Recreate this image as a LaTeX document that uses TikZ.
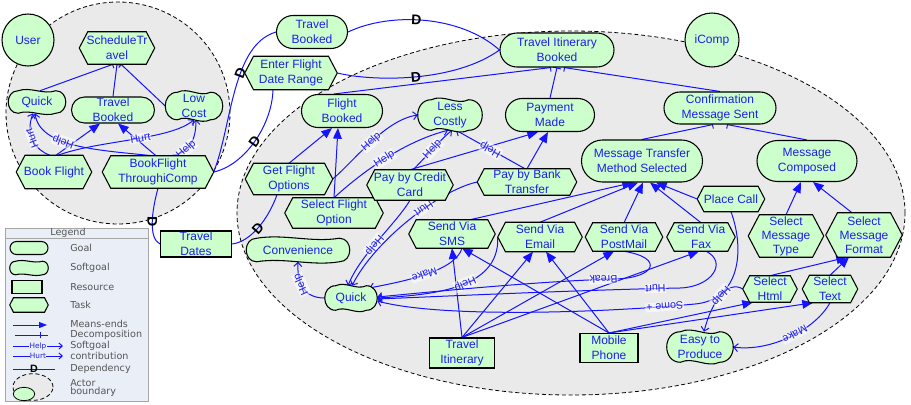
\documentclass[tikz,border=0pt]{standalone}
\usepackage{fontspec}
\setmainfont{Liberation Sans}
\setsansfont{Liberation Sans}
\newfontfamily\legfont{DejaVu Sans}
\usetikzlibrary{shapes.misc,arrows.meta,calc}
\pgfdeclarelayer{bg}\pgfdeclarelayer{edges}\pgfdeclarelayer{shapes}
\pgfsetlayers{bg,edges,shapes,main}
\definecolor{gfill}{RGB}{204,255,204}
\definecolor{lblue}{RGB}{20,20,255}
\definecolor{tblue}{RGB}{30,30,235}
\definecolor{actbg}{RGB}{234,234,234}
\definecolor{legbg}{RGB}{234,239,247}
\definecolor{legtxt}{RGB}{85,85,85}
\newcommand\nodefont{\fontsize{9}{11.2}\selectfont}
\tikzset{
 x=0.75pt, y=-0.75pt,
 txt/.style={font=\nodefont, text=tblue, align=center, inner sep=0pt},
 gsz/.style 2 args={minimum width={#1*0.75pt}, minimum height={#2*0.75pt}},
 goal/.style={txt, rounded rectangle, draw=black, fill=gfill, line width=0.8pt},
 res/.style={txt, rectangle, draw=black, fill=gfill, line width=0.8pt},
 shp/.style={draw=black, fill=gfill, line width=0.8pt},
 actor/.style={txt, circle, draw=black, fill=gfill, line width=0.8pt},
 actb/.style={draw=black, fill=actbg, dash pattern=on 3pt off 2pt, line width=0.6pt},
 link/.style={draw=lblue, line width=0.75pt},
 meansend/.style={link, -{Triangle[length=8pt,width=6.5pt]}},
 contrib/.style={link, -{Straight Barb[length=3pt,width=6pt]}},
 decomp/.style={link, -{Bar[width=6pt]}},
 deplink/.style={link},
 lbl/.style={font=\fontsize{8}{8}\selectfont, text=tblue, sloped, allow upside down, fill=white, fill opacity=0.55, text opacity=1, inner sep=0.6pt},
 dmark/.style={font=\fontsize{10.5}{10.5}\selectfont\bfseries, text=black, sloped, allow upside down, inner sep=0pt},
 legt/.style={font=\legfont\fontsize{7.2}{8}\selectfont, text=legtxt, inner sep=0pt, anchor=west},
}
\newcommand\tasknode[7][]{%
 \node[txt,#1, minimum width={#5*0.75pt}, minimum height={#6*0.75pt}] (#2) at (#3,#4) {#7};
 \pgfmathsetmacro\tipd{0.2*#6}%
 \begin{pgfonlayer}{shapes}
 \draw[shp] (#2.west) -- ([xshift=\tipd pt]#2.north west) -- ([xshift=-\tipd pt]#2.north east) -- (#2.east) -- ([xshift=-\tipd pt]#2.south east) -- ([xshift=\tipd pt]#2.south west) -- cycle;
 \end{pgfonlayer}}
\newcommand\sgnode[7][]{%
 \node[txt,#1, minimum width={#5*0.75pt}, minimum height={#6*0.75pt}] (#2) at (#3,#4) {#7};
 \pgfmathsetmacro\sgr{0.34*#6}%
 \pgfmathsetmacro\sgk{4*\sgr/3}%
 \pgfmathsetmacro\sgl{(0.75*#5-2*\sgr)/3}%
 \pgfmathsetmacro\sgd{0.15*#6}%
 \begin{pgfonlayer}{shapes}
 \draw[shp] ([xshift=\sgr pt]#2.north west) .. controls +(\sgl pt,\sgd pt) and +(-\sgl pt,-\sgd pt) .. ([xshift=-\sgr pt]#2.north east)
   .. controls +(\sgk pt,0pt) and +(\sgk pt,0pt) .. ([xshift=-\sgr pt]#2.south east)
   .. controls +(-\sgl pt,-\sgd pt) and +(\sgl pt,\sgd pt) .. ([xshift=\sgr pt]#2.south west)
   .. controls +(-\sgk pt,0pt) and +(-\sgk pt,0pt) .. ([xshift=\sgr pt]#2.north west) -- cycle;
 \end{pgfonlayer}}
\begin{document}
\begin{tikzpicture}
\useasboundingbox (0,0) rectangle (911,404);
% actor boundaries and legend box
\begin{pgfonlayer}{bg}
\draw[actb] (118,113) ellipse [x radius=84pt, y radius=83.25pt];
\draw[actb] (571,213) ellipse [x radius=250.5pt, y radius=136.5pt];
\node[draw=gray!70, fill=legbg, minimum width=107.25pt, minimum height=129.75pt, anchor=north west, inner sep=0pt] (legend) at (5,228) {};
\draw[gray!70] ($(legend.north west)+(0,10)$) -- ($(legend.north east)+(0,10)$);
\end{pgfonlayer}

% ---------------- User ----------------
\node[actor, minimum size=39pt] (user) at (28,40) {User};
\tasknode{st}{117}{48}{75}{32}{ScheduleTr\\avel}
\sgnode{uquick}{37}{102}{57}{22}{Quick}
\node[goal, gsz={83}{26}] (utb) at (113,110) {Travel\\Booked};
\sgnode{lowcost}{194}{106}{57}{27}{Low\\Cost}
\tasknode{bf}{54}{172}{75}{33}{Book Flight}
\tasknode{bftic}{158}{172}{111}{32}{BookFlight\\ThroughiComp}

% ---------------- dependums ----------------
\node[goal, gsz={71}{33}] (ttb) at (312,32) {Travel\\Booked};
\tasknode{efdr}{291}{73}{92}{33}{Enter Flight\\Date Range}
\node[res, gsz={71}{26}] (td) at (196,244) {Travel\\Dates};

% ---------------- iComp ----------------
\node[actor, minimum size=40.5pt] (icomp) at (712,40) {iComp};
\node[goal, gsz={114}{34}] (tib) at (557,50) {Travel Itinerary\\Booked};
\node[goal, gsz={81}{33}] (fb) at (342,111) {Flight\\Booked};
\sgnode{lc}{450}{115}{64}{30}{Less\\Costly}
\node[goal, gsz={89}{33}] (pm) at (550,115) {Payment\\Made};
\node[goal, gsz={112}{32}] (cms) at (720,108) {Confirmation\\Message Sent};
\node[goal, gsz={121}{42}] (mtms) at (642,161) {Message Transfer\\Method Selected};
\node[goal, gsz={100}{41}] (mc) at (807,161) {Message\\Composed};
\tasknode{gfo}{289}{179}{87}{31}{Get Flight\\Options}
\tasknode{sfo}{334}{213}{98}{30}{Select Flight\\Option}
\tasknode{pbcc}{410}{185}{86}{30}{Pay by Credit\\Card}
\tasknode{pbbt}{527}{182}{99}{26}{Pay by Bank\\Transfer}
\tasknode{pc}{731}{199}{67}{25}{Place Call}
\tasknode{sms}{452}{234}{86}{28}{Send Via\\SMS}
\tasknode{email}{540}{237}{84}{29}{Send Via\\Email}
\tasknode{post}{624}{237}{77}{28}{Send Via\\PostMail}
\tasknode{fax}{701}{237}{68}{28}{Send Via\\Fax}
\tasknode[font=\fontsize{9}{10.5}\selectfont]{smt}{786}{236}{75}{42}{Select\\Message\\Type}
\tasknode[font=\fontsize{9}{10.5}\selectfont]{smf}{864}{235}{76}{44}{Select\\Message\\Format}
\tasknode{shtml}{770}{289}{54}{26}{Select\\Html}
\tasknode{stext}{830}{289}{55}{27}{Select\\Text}
\sgnode{conv}{298}{250}{103}{23}{Convenience}
\sgnode{iquick}{351}{298}{52}{24}{Quick}
\sgnode{etp}{700}{347}{66}{30}{Easy to\\Produce}
\node[res, gsz={58}{29}] (mob) at (609,348) {Mobile\\Phone};
\node[res, gsz={65}{30}] (ti) at (462,353) {Travel\\Itinerary};

\begin{pgfonlayer}{edges}
% user internals
\draw[decomp] ($(uquick.north)+(3,0)$) -- ($(st.south)+(-4,0)$);
\draw[decomp] (utb.north) -- (st.south);
\draw[decomp] (lowcost.west) -- ($(st.south)+(4,0)$);
\draw[meansend] ($(bf.north)+(2,0)$) -- ($(utb.south)+(-13,0)$);
\draw[meansend] ($(bftic.north)+(-2,0)$) -- ($(utb.south)+(5,0)$);
\draw[contrib] ($(bf.north)+(-4,0)$) .. controls (35,150) and (25,135) .. ($(uquick.south)+(-4,0)$) node[lbl,pos=0.55]{Hurt};
\draw[contrib] ($(bftic.north)+(-6,0)$) .. controls (100,150) and (40,148) .. ($(uquick.south)+(-2,0)$) node[lbl,pos=0.6]{Help};
\draw[contrib] ($(bf.north)+(4,0)$) .. controls (100,140) and (170,140) .. (lowcost.south) node[lbl,pos=0.55]{Hurt};
\draw[contrib] ($(bftic.north)+(6,0)$) .. controls (185,157) and (196,145) .. ($(lowcost.south)+(2,0)$) node[lbl,pos=0.45]{Help};

% dependencies
\draw[deplink] (bftic.east) .. controls (232,125) and (232,45) .. (ttb.west) node[dmark,pos=0.6]{D};
\draw[deplink] (ttb.east) .. controls (390,12) and (460,15) .. (tib.west) node[dmark,pos=0.45]{D};
\draw[deplink] (bftic.east) .. controls (245,165) and (272,125) .. ($(efdr.south)+(-18,0)$) node[dmark,pos=0.5]{D};
\draw[deplink] (efdr.east) .. controls (375,82) and (455,82) .. (tib.west) node[dmark,pos=0.5]{D};
\draw[deplink] (bftic.south) .. controls (152,210) and (148,238) .. (td.west) node[dmark,pos=0.5]{D};
\draw[deplink] (td.east) .. controls (250,242) and (268,220) .. ($(gfo.south)+(-12,0)$) node[dmark,pos=0.5]{D};

% iComp decompositions
\draw[decomp] ($(fb.north)+(-8,0)$) -- ($(tib.south)+(-6,0)$);
\draw[decomp] (pm.north) -- (tib.south);
\draw[decomp] (cms.north) -- ($(tib.south)+(7,0)$);
\draw[decomp] (mtms.north) -- ($(cms.south)+(-7,0)$);
\draw[decomp] (mc.north) -- ($(cms.south)+(7,0)$);

% means-ends
\draw[meansend] (gfo.north) -- ($(fb.south)+(-10,0)$);
\draw[meansend] (sfo.north) -- ($(fb.south)+(-4,0)$);
\draw[meansend] (pbcc.north) -- ($(pm.south)+(-12,0)$);
\draw[meansend] (pbbt.north) -- ($(pm.south)+(-2,0)$);
\draw[meansend] ($(sms.north)+(18,0)$) -- ($(mtms.south)+(-9,0)$);
\draw[meansend] (email.north) -- ($(mtms.south)+(-4,0)$);
\draw[meansend] (post.north) -- ($(mtms.south)+(1,0)$);
\draw[meansend] (fax.north) -- ($(mtms.south)+(8,0)$);
\draw[meansend] (pc.west) -- ($(mtms.south)+(14,0)$);
\draw[meansend] (ti.north) -- (sms.south);
\draw[meansend] (ti.north) -- ($(email.south)+(-7,0)$);
\draw[meansend] (ti.north) -- ($(post.south)+(-10,0)$);
\draw[meansend] (ti.north) -- ($(fax.south)+(-2,0)$);
\draw[meansend] (mob.north) -- ($(sms.south)+(10,0)$);
\draw[meansend] (mob.north) -- ($(email.south)+(6,0)$);
\draw[meansend] (mob.north) -- ($(shtml.south)+(-17,0)$);
\draw[meansend] (mob.north) -- ($(stext.south)+(-17,0)$);
\draw[meansend] (smt.north) -- ($(mc.south)+(-6,0)$);
\draw[meansend] ($(smf.north)+(-12,0)$) -- ($(mc.south)+(6,0)$);
\draw[meansend] (shtml.north) -- ($(smf.south)+(-17,0)$);
\draw[meansend] (stext.north) -- ($(smf.south)+(-15,0)$);

% contributions
\draw[contrib] ($(pbcc.north)+(3,0)$) .. controls (425,158) and (440,140) .. ($(lc.south)+(2,0)$) node[lbl,pos=0.5]{Help};
\draw[contrib] ($(pbbt.north)+(-2,0)$) -- ($(lc.south)+(6,0)$) node[lbl,pos=0.5]{Help};
\draw[contrib] (sfo.north) .. controls (370,165) and (410,140) .. ($(lc.south)+(-2,0)$) node[lbl,pos=0.45]{Help};
\draw[contrib] (gfo.east) .. controls (355,160) and (385,120) .. (lc.west) node[lbl,pos=0.5]{Help};
\draw[contrib] (pbcc.south) .. controls (395,225) and (360,255) .. ($(iquick.north)+(-3,0)$) node[lbl,pos=0.55]{Help};
\draw[contrib] (pbbt.west) .. controls (440,190) and (375,240) .. ($(iquick.north)+(1,0)$) node[lbl,pos=0.4]{Hurt};
\draw[contrib] ($(sms.south)+(10,0)$) .. controls (455,272) and (400,282) .. ($(iquick.east)+(-8,-10)$) node[lbl,pos=0.5]{Make};
\draw[contrib] (email.west) .. controls (500,290) and (430,295) .. (iquick.east) node[lbl,pos=0.45]{Help};
\draw[contrib] (post.south) .. controls (665,258) and (655,278) .. (615,279) .. controls (540,281) and (430,292) .. ($(iquick.east)+(0,-1)$) node[lbl,pos=0.05]{Break};
\draw[contrib] ($(fax.south)+(5,0)$) .. controls (728,262) and (712,287) .. (680,288) .. controls (580,290) and (450,296) .. ($(iquick.east)+(0,1)$) node[lbl,pos=0.08]{Hurt};
\draw[contrib] (pc.south) .. controls (745,250) and (740,300) .. (695,304) .. controls (600,313) and (440,318) .. ($(iquick.east)+(0,3)$) node[lbl,pos=0.1]{Some +};
\draw[contrib] (shtml.west) .. controls (728,280) and (712,300) .. ($(etp.north)+(4,0)$) node[lbl,pos=0.5]{Help};
\draw[contrib] (stext.south) .. controls (815,330) and (770,352) .. (etp.east) node[lbl,pos=0.45]{Make};
\draw[contrib] (iquick.west) .. controls (305,298) and (297,285) .. (conv.south) node[lbl,pos=0.6]{Help};
\end{pgfonlayer}

% ---------------- Legend ----------------
\node[legt, anchor=center] (legtitle) at (68,233) {Legend};
\node[goal, gsz={38}{13}] (lgGoal) at (29,248) {};
\node[legt] (lgGoalT) at (70,248) {Goal};
\sgnode{lgSoft}{29}{268}{38}{13}{}
\node[legt] (lgSoftT) at (70,268) {Softgoal};
\node[res, gsz={30}{13}] (lgRes) at (27,287) {};
\node[legt] (lgResT) at (70,287) {Resource};
\tasknode{lgTask}{29}{305}{38}{14}{}
\node[legt] (lgTaskT) at (70,305) {Task};
\coordinate (lm1) at (13,325); \coordinate (lm2) at (47,325);
\draw[link, -{Triangle[length=6pt,width=4.5pt]}] (lm1) -- (lm2);
\node[legt] (lgMeT) at (70,324) {Means-ends};
\coordinate (ld1) at (15,335); \coordinate (ld2) at (48,335);
\draw[link] (ld1) -- (ld2);
\draw[link] ($(ld1)!0.78!(ld2)+(0,-3)$) -- ++(0,6);
\node[legt] (lgDeT) at (70,335) {Decomposition};
\coordinate (lh1) at (13,346); \coordinate (lh2) at (63,346);
\draw[link, -{Straight Barb[length=2.5pt,width=4.5pt]}] (lh1) -- (lh2) node[midway, fill=legbg, inner sep=0.3pt, font=\legfont\fontsize{5.5}{6}\selectfont, text=tblue]{Help};
\coordinate (lu1) at (13,356); \coordinate (lu2) at (63,356);
\draw[link, -{Straight Barb[length=2.5pt,width=4.5pt]}] (lu1) -- (lu2) node[midway, fill=legbg, inner sep=0.3pt, font=\legfont\fontsize{5.5}{6}\selectfont, text=tblue]{Hurt};
\node[legt] (lgScT) at (70,346) {Softgoal};
\node[legt] (lgScT2) at (70,356) {contribution};
\coordinate (lp1) at (13,369); \coordinate (lp2) at (55,369);
\draw[link] (lp1) -- (lp2) node[midway, font=\fontsize{8}{8}\selectfont\bfseries, text=black, inner sep=0pt]{D};
\node[legt] (lgDpT) at (70,369) {Dependency};
\draw[actb] (33,387) ellipse [x radius=15pt, y radius=10pt];
\draw[shp, line width=0.6pt] (24,394) ellipse [x radius=8pt, y radius=5pt];
\node[legt] (lgAcT) at (70,383) {Actor};
\node[legt] (lgAcT2) at (70,392) {boundary};
\end{tikzpicture}
\end{document}
